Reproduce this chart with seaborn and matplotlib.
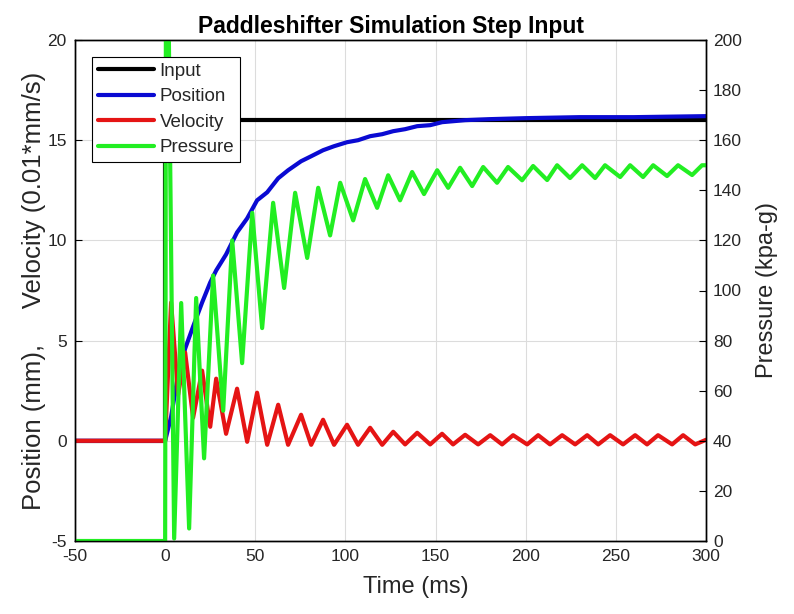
import numpy as np
import pandas as pd
import matplotlib
matplotlib.use("Agg")
import matplotlib.pyplot as plt
import seaborn as sns

# ---------------- data ----------------
input_t = [-50, 0, 0, 300]
input_v = [0, 0, 16, 16]

position_t = [-50, 0, 3.3, 7.2, 11.1, 15.5, 20.5, 25.0, 28.3, 33.8, 39.9, 45.5, 51.0,
              56.6, 62.7, 68.2, 75.4, 81.0, 87.6, 93.7, 100.9, 107.0, 113.7, 120.4,
              126.5, 133.1, 139.8, 147.0, 153.6, 166.4, 180, 200, 230, 260, 300]
position_mm = [0, 0, 1.2, 3.3, 4.6, 5.7, 6.9, 7.9, 8.5, 9.3, 10.4, 11.1, 12.0,
               12.4, 13.1, 13.5, 13.95, 14.2, 14.5, 14.7, 14.9, 15.0, 15.2, 15.3,
               15.45, 15.55, 15.7, 15.75, 15.9, 16.0, 16.05, 16.1, 16.15, 16.15, 16.2]

velocity_t = [-50, 0, 3.3, 7.2, 11.1, 15.5, 20.5, 25.0, 28.3, 33.8, 39.9, 45.5, 51.0,
              56.6, 62.7, 68.2, 75.4, 81.0, 87.6, 93.7, 100.9, 107.0, 113.7, 120.4,
              126.5, 133.1, 139.8, 147.0, 153.6, 159.7, 166.4, 173.6, 180.3, 186.9,
              193.0, 200.8, 206.9, 213.5, 220.2, 227.4, 234.1, 240.2, 246.8, 254.0,
              260.7, 267.3, 273.4, 281.2, 287.3, 294.0, 300]
velocity_v = [0, 0, 6.9, 2.3, 4.4, 1.15, 3.5, 0.7, 3.1, 0.35, 2.6, -0.05, 2.4,
              -0.2, 1.8, -0.2, 1.3, -0.2, 1.05, -0.2, 0.8, -0.2, 0.65, -0.2,
              0.45, -0.18, 0.4, -0.18, 0.35, -0.18, 0.3, -0.18, 0.28, -0.18,
              0.28, -0.18, 0.28, -0.18, 0.28, -0.18, 0.28, -0.18, 0.28, -0.18,
              0.28, -0.18, 0.28, -0.18, 0.28, -0.18, 0.05]

pressure_t = [-50, 0, 0.6, 5.0, 8.9, 13.3, 17.2, 21.6, 26.6, 32.2, 37.2, 42.7, 48.3,
              53.8, 59.9, 66.0, 72.1, 78.8, 84.9, 91.5, 97.1, 104.3, 110.9, 117.6,
              123.7, 130.3, 137.0, 143.6, 150.9, 157.0, 163.6, 170.3, 176.4, 184.1,
              190.2, 198.0, 204.1, 211.9, 217.4, 224.6, 231.3, 238.5, 244.0, 252.4,
              257.9, 265.1, 270.7, 278.4, 284.5, 292.3, 297.8, 300]
pressure_kpa = [0, 0, 300, 1, 95, 5, 97, 33, 106, 52, 120, 71, 131,
                85, 135, 101, 139, 113, 141, 122, 143, 128, 144.5, 133,
                146, 136, 147.3, 138.5, 148, 141, 149, 141.7, 149.3, 143,
                149.3, 144, 149.7, 144.1, 150, 144.9, 150, 144.9, 150, 145.3,
                150, 145.3, 150, 145.7, 150, 146.1, 150, 150]

xticks = [-50, 0, 50, 100, 150, 200, 250, 300]
left_ticks = [-5, 0, 5, 10, 15, 20]
right_ticks = [0, 20, 40, 60, 80, 100, 120, 140, 160, 180, 200]

# ---------------- style ----------------
sns.set_theme(style="white")
plt.rcParams["font.family"] = ["Liberation Sans", "DejaVu Sans"]
plt.rcParams["axes.unicode_minus"] = False

c_input = "#000000"
c_pos = "#0a0ad2"
c_vel = "#e51414"
c_pres = "#22ee22"
lw = 3.0
txt = "#262626"

fig = plt.figure(figsize=(7.94, 6.14), dpi=100)
ax = fig.add_axes([75 / 794, 1 - 541 / 614, (706 - 75) / 794, (541 - 40) / 614])
ax2 = ax.twinx()

df_in = pd.DataFrame({"t": input_t, "v": input_v})
df_pos = pd.DataFrame({"t": position_t, "v": position_mm})
df_vel = pd.DataFrame({"t": velocity_t, "v": velocity_v})
df_pr = pd.DataFrame({"t": pressure_t, "v": pressure_kpa})

common = dict(x="t", y="v", estimator=None, sort=False, linewidth=lw,
              solid_joinstyle="round", solid_capstyle="round")
sns.lineplot(data=df_in, ax=ax, color=c_input, label="Input", **common)
sns.lineplot(data=df_pos, ax=ax, color=c_pos, label="Position", **common)
sns.lineplot(data=df_vel, ax=ax, color=c_vel, label="Velocity", **common)
sns.lineplot(data=df_pr, ax=ax2, color=c_pres, label="Pressure", **common)

ax.set_xlim(-50, 300)
ax.set_ylim(-5, 20)
ax2.set_ylim(0, 200)
ax.set_xticks(xticks)
ax.set_yticks(left_ticks)
ax2.set_yticks(right_ticks)

ax.grid(True, color="#dcdcdc", linewidth=0.8)
ax.set_axisbelow(True)

for a in (ax, ax2):
    a.tick_params(direction="in", length=5, width=0.8, colors="black",
                  labelcolor=txt, labelsize=12.5, pad=6)
    for s in a.spines.values():
        s.set_color("black")
        s.set_linewidth(1.0)
ax2.tick_params(axis="y", pad=5)

ax.set_xlabel("Time (ms)", fontsize=17, color=txt, labelpad=3)
ax.xaxis.set_label_coords(0.54, -0.07)
ax.set_ylabel("Position (mm),     Velocity (0.01*mm/s)", fontsize=18.5, color=txt, labelpad=1)
ax2.set_ylabel("Pressure (kpa-g)", fontsize=17, color=txt, labelpad=10)
ax.set_title("Paddleshifter Simulation Step Input", fontsize=16.5, fontweight="bold",
             color="black", pad=5)

h1, l1 = ax.get_legend_handles_labels()
h2, l2 = ax2.get_legend_handles_labels()
if ax.get_legend() is not None:
    ax.get_legend().remove()
if ax2.get_legend() is not None:
    ax2.get_legend().remove()
leg = ax2.legend(h1 + h2, l1 + l2, loc="upper left", bbox_to_anchor=(0.027, 0.966),
                 fontsize=13.5, frameon=True, fancybox=False, framealpha=1,
                 edgecolor="black", handlelength=3.0, handletextpad=0.3,
                 labelspacing=0.45, borderpad=0.3, borderaxespad=0.0)
leg.get_frame().set_linewidth(0.8)
leg.set_zorder(10)

fig.savefig("out.png", dpi=100)
